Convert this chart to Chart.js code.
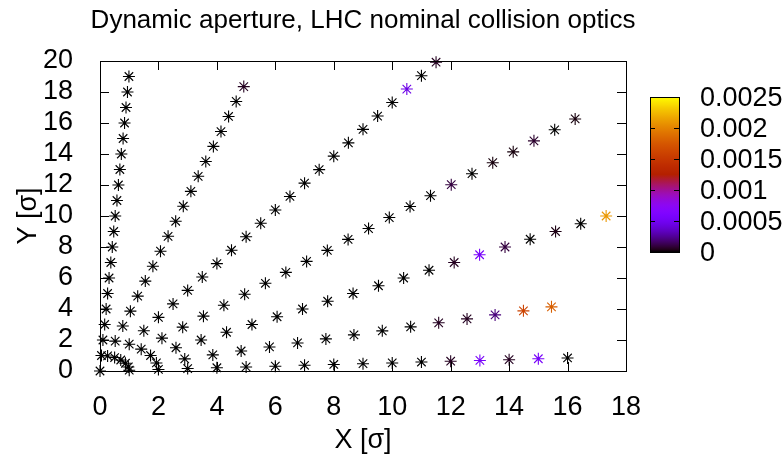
<!DOCTYPE html>
<html>
<head>
<meta charset="utf-8">
<title>Dynamic aperture</title>
<script src="https://cdn.jsdelivr.net/npm/chart.js@4.4.0/dist/chart.umd.min.js"></script>
<style>
  html, body { margin: 0; padding: 0; background: #fff; }
  #wrap { width: 784px; height: 459px; }
</style>
</head>
<body>
<div id="wrap"><canvas id="da"></canvas></div>
<script>
// Survival points along each angular scan line (amplitudes in beam sigma)
// and the colour value measured at each point.
const x03 = [0, 1, 2, 3, 4, 5, 6, 7, 8, 9, 10, 11, 12, 13, 14, 15, 16];
const y03 = [0, 0.05, 0.10, 0.16, 0.21, 0.26, 0.31, 0.37, 0.42, 0.47, 0.52, 0.58, 0.63, 0.68, 0.73, 0.79, 0.84];
const c03 = [0, 0, 0, 0, 0, 0, 0, 0, 0, 0, 0, 0, 0.00005, 0.00055, 0.00005, 0.00055, 0];

const x15 = [0.97, 1.93, 2.90, 3.86, 4.83, 5.80, 6.76, 7.73, 8.69, 9.66, 10.63, 11.59, 12.56, 13.52, 14.49, 15.45];
const y15 = [0.26, 0.52, 0.78, 1.04, 1.29, 1.55, 1.81, 2.07, 2.33, 2.59, 2.85, 3.11, 3.36, 3.62, 3.88, 4.14];
const c15 = [0, 0, 0, 0, 0, 0, 0, 0, 0, 0, 0, 0.00005, 0.00005, 0.0002, 0.0016, 0.0018];

const x30 = [0.87, 1.73, 2.60, 3.46, 4.33, 5.20, 6.06, 6.93, 7.79, 8.66, 9.53, 10.39, 11.26, 12.12, 12.99, 13.86, 14.72, 15.59, 16.45, 17.32];
const y30 = [0.5, 1, 1.5, 2, 2.5, 3, 3.5, 4, 4.5, 5, 5.5, 6, 6.5, 7, 7.5, 8, 8.5, 9, 9.5, 10];
const c30 = [0, 0, 0, 0, 0, 0, 0, 0, 0, 0, 0, 0, 0, 0.00005, 0.00055, 0.0001, 0, 0.00003, 0, 0.0021];

const x45 = [0.71, 1.41, 2.12, 2.83, 3.54, 4.24, 4.95, 5.66, 6.36, 7.07, 7.78, 8.49, 9.19, 9.90, 10.61, 11.31, 12.02, 12.73, 13.44, 14.14, 14.85, 15.56, 16.26];
const y45 = [0.71, 1.41, 2.12, 2.83, 3.54, 4.24, 4.95, 5.66, 6.36, 7.07, 7.78, 8.49, 9.19, 9.90, 10.61, 11.31, 12.02, 12.73, 13.44, 14.14, 14.85, 15.56, 16.26];
const c45 = [0, 0, 0, 0, 0, 0, 0, 0, 0, 0, 0, 0, 0, 0, 0, 0, 0.0001, 0, 0.00002, 0.00002, 0.00007, 0, 0.00002];

const x60 = [0.5, 1, 1.5, 2, 2.5, 3, 3.5, 4, 4.5, 5, 5.5, 6, 6.5, 7, 7.5, 8, 8.5, 9, 9.5, 10, 10.5, 11, 11.5];
const y60 = [0.87, 1.73, 2.60, 3.46, 4.33, 5.20, 6.06, 6.93, 7.79, 8.66, 9.53, 10.39, 11.26, 12.12, 12.99, 13.86, 14.72, 15.59, 16.45, 17.32, 18.19, 19.05, 19.92];
const c60 = [0, 0, 0, 0, 0, 0, 0, 0, 0, 0, 0, 0, 0, 0, 0, 0, 0, 0, 0, 0, 0.00045, 0, 0.00005];

const x75 = [0.26, 0.52, 0.78, 1.04, 1.29, 1.55, 1.81, 2.07, 2.33, 2.59, 2.85, 3.11, 3.36, 3.62, 3.88, 4.14, 4.40, 4.66, 4.92];
const y75 = [0.97, 1.93, 2.90, 3.86, 4.83, 5.80, 6.76, 7.73, 8.69, 9.66, 10.63, 11.59, 12.56, 13.52, 14.49, 15.45, 16.42, 17.39, 18.35];
const c75 = [0, 0, 0, 0, 0, 0, 0, 0, 0, 0, 0, 0, 0, 0, 0, 0, 0, 0, 0.00005];

const x87 = [0.05, 0.10, 0.16, 0.21, 0.26, 0.31, 0.37, 0.42, 0.47, 0.52, 0.58, 0.63, 0.68, 0.73, 0.79, 0.84, 0.89, 0.94, 0.99];
const y87 = [1, 2, 3, 4, 5, 6, 7, 8, 9, 10, 11, 12, 13, 14, 15, 16, 17, 18, 19];
const c87 = [0, 0, 0, 0, 0, 0, 0, 0, 0, 0, 0, 0, 0, 0, 0, 0, 0, 0, 0];

const cbTicks = [0, 0.0005, 0.001, 0.0015, 0.002, 0.0025];
const cbLabels = ['0', '0.0005', '0.001', '0.0015', '0.002', '0.0025'];
const CB_MAX = 0.0025;

const TITLE = 'Dynamic aperture, LHC nominal collision optics';
const FONT = 'Liberation Sans, Arial, Helvetica, sans-serif';
const FONT_SIZE = 27;

// gnuplot default pm3d palette (rgbformulae 7,5,15)
function paletteRGB(t) {
  t = Math.min(1, Math.max(0, t));
  const r = Math.sqrt(t);
  const g = t * t * t;
  const b = Math.max(0, Math.sin(2 * Math.PI * t));
  return [Math.round(r * 255), Math.round(g * 255), Math.round(b * 255)];
}
function paletteColor(v) {
  const [r, g, b] = paletteRGB(v / CB_MAX);
  return `rgb(${r},${g},${b})`;
}

function ray(xs, ys, cs) {
  return {
    data: xs.map((x, i) => ({ x: x, y: ys[i] })),
    pointStyle: 'star',
    pointRadius: 6,
    pointHoverRadius: 6,
    pointBorderWidth: 1.1,
    pointBorderColor: cs.map(paletteColor),
    pointBackgroundColor: cs.map(paletteColor),
    showLine: false,
    clip: false,
  };
}

// title centred over the plot frame
const plotTitle = {
  id: 'plotTitle',
  afterDraw(chart) {
    const { ctx, chartArea: a } = chart;
    ctx.save();
    ctx.font = `26px ${FONT}`;
    ctx.fillStyle = '#000';
    ctx.textAlign = 'center';
    ctx.textBaseline = 'middle';
    ctx.fillText(TITLE, (a.left + a.right) / 2, 21);
    ctx.restore();
  },
};

// frame with inward ticks on all four sides
const frameTicks = {
  id: 'frameTicks',
  afterDraw(chart) {
    const { ctx, chartArea: a, scales } = chart;
    const len = 9;
    ctx.save();
    ctx.strokeStyle = '#000';
    ctx.lineWidth = 1;
    ctx.beginPath();
    scales.x.ticks.forEach((t) => {
      const px = Math.round(scales.x.getPixelForValue(t.value)) + 0.5;
      ctx.moveTo(px, a.bottom); ctx.lineTo(px, a.bottom - len);
      ctx.moveTo(px, a.top); ctx.lineTo(px, a.top + len);
    });
    scales.y.ticks.forEach((t) => {
      const py = Math.round(scales.y.getPixelForValue(t.value)) + 0.5;
      ctx.moveTo(a.left, py); ctx.lineTo(a.left + len, py);
      ctx.moveTo(a.right, py); ctx.lineTo(a.right - len, py);
    });
    ctx.stroke();
    ctx.strokeRect(Math.round(a.left) + 0.5, Math.round(a.top) + 0.5,
      Math.round(a.right - a.left), Math.round(a.bottom - a.top));
    ctx.restore();
  },
};

// colour box with its own labelled ticks, right of the plot
const colorBox = {
  id: 'colorBox',
  afterDraw(chart) {
    const { ctx, chartArea: a } = chart;
    const left = Math.round(a.right) + 24;
    const w = 29;
    const top = 97;
    const bottom = 252;
    const grad = ctx.createLinearGradient(0, bottom, 0, top);
    for (let i = 0; i <= 60; i++) {
      const [r, g, b] = paletteRGB(i / 60);
      grad.addColorStop(i / 60, `rgb(${r},${g},${b})`);
    }
    ctx.save();
    ctx.fillStyle = grad;
    ctx.fillRect(left, top, w, bottom - top);
    ctx.strokeStyle = '#000';
    ctx.lineWidth = 1;
    ctx.strokeRect(left + 0.5, top + 0.5, w, bottom - top);
    ctx.font = `${FONT_SIZE}px ${FONT}`;
    ctx.fillStyle = '#000';
    ctx.textAlign = 'left';
    ctx.textBaseline = 'middle';
    cbTicks.forEach((v, i) => {
      const py = Math.round(bottom - (v / CB_MAX) * (bottom - top)) + 0.5;
      if (i > 0 && i < cbTicks.length - 1) {
        ctx.beginPath();
        ctx.moveTo(left, py); ctx.lineTo(left + 5, py);
        ctx.moveTo(left + w, py); ctx.lineTo(left + w - 5, py);
        ctx.stroke();
      }
      ctx.fillText(cbLabels[i], left + w + 21, py + 1);
    });
    ctx.restore();
  },
};

const tickFont = { family: FONT, size: FONT_SIZE };

new Chart(document.getElementById('da'), {
  type: 'scatter',
  data: {
    datasets: [
      ray(x03, y03, c03),
      ray(x15, y15, c15),
      ray(x30, y30, c30),
      ray(x45, y45, c45),
      ray(x60, y60, c60),
      ray(x75, y75, c75),
      ray(x87, y87, c87),
    ],
  },
  options: {
    responsive: true,
    maintainAspectRatio: false,
    animation: false,
    layout: { padding: { left: 0, right: 158, top: 61, bottom: 0 } },
    plugins: {
      legend: { display: false },
      tooltip: { enabled: false },
      title: { display: false },
    },
    scales: {
      x: {
        type: 'linear',
        min: 0,
        max: 18,
        grid: { display: false },
        border: { display: false },
        ticks: { stepSize: 2, autoSkip: false, color: '#000', font: tickFont, padding: 12, maxRotation: 0 },
        title: { display: true, text: 'X [σ]', color: '#000', font: tickFont, padding: { top: 0, bottom: 2 } },
        afterFit(scale) { scale.height = 88; },
      },
      y: {
        type: 'linear',
        min: 0,
        max: 20,
        grid: { display: false },
        border: { display: false },
        ticks: { stepSize: 2, autoSkip: false, color: '#000', font: tickFont, padding: 19 },
        title: { display: true, text: 'Y [σ]', color: '#000', font: tickFont, padding: { top: 12, bottom: 0 } },
        afterFit(scale) { scale.width = 100; },
      },
    },
  },
  plugins: [plotTitle, frameTicks, colorBox],
});
</script>
</body>
</html>
